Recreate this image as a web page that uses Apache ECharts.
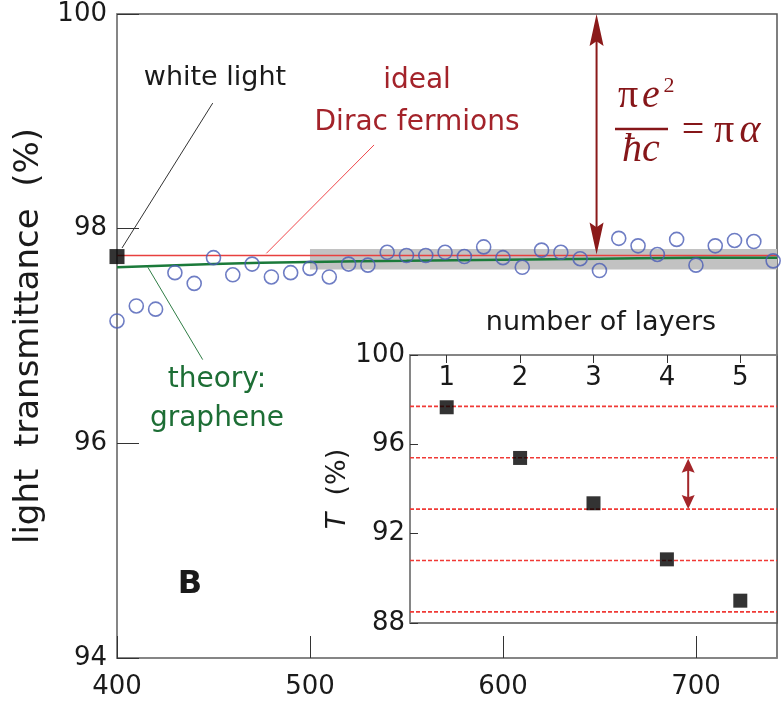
<!DOCTYPE html>
<html>
<head>
<meta charset="utf-8">
<script src="https://cdn.jsdelivr.net/npm/echarts@6/dist/echarts.min.js"></script>
<style>html,body{margin:0;padding:0;background:#fff}#c{width:783px;height:706px}</style>
</head>
<body>
<div id="c"></div>
<script>
// ---- data ----
const wavelengths = [400,410,420,430,440,450,460,470,480,490,500,510,520,530,540,550,560,570,580,590,600,610,620,630,640,650,660,670,680,690,700,710,720,730,740];
const transmittance = [97.14,97.28,97.25,97.59,97.49,97.73,97.57,97.67,97.55,97.59,97.63,97.55,97.67,97.66,97.78,97.75,97.75,97.78,97.74,97.83,97.73,97.64,97.80,97.78,97.72,97.61,97.91,97.84,97.76,97.90,97.66,97.84,97.89,97.88,97.70];
const whiteLight = [400, 97.74];
const idealX = [400, 742];
const idealT = [97.75, 97.75];
const theoryX = [400, 450, 500, 550, 600, 650, 700, 742];
const theoryT = [97.64, 97.67, 97.69, 97.70, 97.71, 97.72, 97.73, 97.73];
const bandX = [500, 742];
const bandT = [97.62, 97.81];
const mainArrow = [648.5, 97.76, 100];
const layers = [1, 2, 3, 4, 5];
const layerT = [97.66, 95.39, 93.36, 90.85, 89.0];
const layerRefLines = [97.7, 95.4, 93.1, 90.8, 88.5];
const layerRefX = [0.5, 5.5];
const insetArrow = [4.29, 93.1, 95.36];
const whiteLeader = [[449.6, 99.17], [402.6, 97.82]];
const idealLeader = [[533.2, 98.78], [477.4, 97.77]];
const theoryLeader = [[444.4, 96.78], [416.0, 97.64]];

const FONT = 'DejaVu Sans';
const chart = echarts.init(document.getElementById('c'), null, {renderer: 'canvas'});

function arrowRenderer(color, headLen, headW, lw) {
  return function (params, api) {
    const x = api.value(0), lo = api.value(1), hi = api.value(2);
    const pLo = api.coord([x, lo]);
    const pHi = api.coord([x, hi]);
    const cx = pLo[0];
    return {
      type: 'group',
      children: [
        {type: 'line', shape: {x1: cx, y1: pHi[1] + headLen * 0.8, x2: cx, y2: pLo[1] - headLen * 0.8},
          style: {stroke: color, lineWidth: lw}},
        {type: 'polygon', shape: {points: [[cx, pHi[1]], [cx - headW / 2, pHi[1] + headLen], [cx, pHi[1] + headLen * 0.85], [cx + headW / 2, pHi[1] + headLen]]},
          style: {fill: color}},
        {type: 'polygon', shape: {points: [[cx, pLo[1]], [cx - headW / 2, pLo[1] - headLen], [cx, pLo[1] - headLen * 0.85], [cx + headW / 2, pLo[1] - headLen]]},
          style: {fill: color}}
      ]
    };
  };
}

const txt = (text, x, y, size, color, extra) => ({
  type: 'text', z: 50,
  style: Object.assign({text: text, x: x, y: y, align: 'center', verticalAlign: 'middle',
    fontSize: size, fontFamily: FONT, fill: color}, extra || {})
});
const FCOL = '#861619';
const SERIF = 'Liberation Serif';
const ftxt = (text, x, y, size, italic) => ({
  type: 'text', z: 50,
  style: {text: text, x: x, y: y, align: 'center', verticalAlign: 'middle', fontSize: size,
    fontFamily: SERIF, fontStyle: italic ? 'italic' : 'normal', fill: FCOL}
});

const refLineSeries = layerRefLines.map((v, k) => ({
  type: 'line', name: 'ref' + k, xAxisIndex: 1, yAxisIndex: 1, z: 3, symbol: 'none', silent: true,
  data: layerRefX.map(x => [x, v]),
  lineStyle: {color: '#f03a36', width: 1.6, type: [4, 2]}
}));

const option = {
  animation: false,
  backgroundColor: '#fff',
  grid: [
    {left: 117, top: 14, right: 6, bottom: 48, show: true, borderColor: '#555', borderWidth: 1.5, backgroundColor: 'transparent'},
    {left: 410, top: 355, right: 6, bottom: 83, show: true, borderColor: '#555', borderWidth: 1.5, backgroundColor: '#fff'}
  ],
  xAxis: [
    {gridIndex: 0, type: 'value', min: 400, max: 742, interval: 100,
      axisLine: {lineStyle: {color: '#888', width: 1.5}},
      axisTick: {inside: true, length: 22, lineStyle: {color: '#333', width: 1}},
      axisLabel: {margin: 16, fontSize: 26, fontFamily: FONT, color: '#1a1a1a', showMaxLabel: false},
      splitLine: {show: false}},
    {gridIndex: 1, type: 'value', min: 0.5, max: 5.5, position: 'top',
      axisLine: {lineStyle: {color: '#888', width: 1.5}},
      axisTick: {inside: true, length: 8, customValues: layers, lineStyle: {color: '#333', width: 1}},
      axisLabel: {inside: true, margin: 10, customValues: layers, fontSize: 26, fontFamily: FONT, color: '#1a1a1a'},
      splitLine: {show: false}}
  ],
  yAxis: [
    {gridIndex: 0, type: 'value', min: 94, max: 100, interval: 2,
      name: 'light  transmittance  (%)', nameLocation: 'middle', nameRotate: 90, nameGap: 54,
      nameTextStyle: {fontSize: 34, fontFamily: FONT, color: '#1a1a1a'},
      axisLine: {lineStyle: {color: '#888', width: 1.5}},
      axisTick: {inside: true, length: 22, lineStyle: {color: '#333', width: 1}},
      axisLabel: {margin: 10, fontSize: 26, fontFamily: FONT, color: '#1a1a1a'},
      splitLine: {show: false}},
    {gridIndex: 1, type: 'value', min: 88, max: 100, interval: 4,
      name: '{i|T}  (%)', nameLocation: 'middle', nameRotate: 90, nameGap: 44,
      nameTextStyle: {fontSize: 27, fontFamily: FONT, color: '#1a1a1a',
        rich: {i: {fontSize: 27, fontFamily: FONT, fontStyle: 'italic', color: '#1a1a1a'}}},
      axisLine: {lineStyle: {color: '#888', width: 1.5}},
      axisTick: {inside: true, length: 8, lineStyle: {color: '#333', width: 1}},
      axisLabel: {margin: 5, fontSize: 26, fontFamily: FONT, color: '#1a1a1a'},
      splitLine: {show: false}}
  ],
  series: [
    {type: 'line', name: 'ideal', xAxisIndex: 0, yAxisIndex: 0, z: 3,
      data: idealX.map((x, i) => [x, idealT[i]]), symbol: 'none',
      lineStyle: {color: '#e8403f', width: 1.5},
      markArea: {silent: true, itemStyle: {color: '#c2c2c2'},
        data: [[{coord: [bandX[0], bandT[0]]}, {coord: [bandX[1], bandT[1]]}]]}},
    {type: 'line', name: 'theory', xAxisIndex: 0, yAxisIndex: 0, z: 4, smooth: true,
      data: theoryX.map((x, i) => [x, theoryT[i]]), symbol: 'none',
      lineStyle: {color: '#1b7a3a', width: 2.5}},
    {type: 'scatter', name: 'measured', xAxisIndex: 0, yAxisIndex: 0, z: 5, clip: true,
      data: wavelengths.map((x, i) => [x, transmittance[i]]),
      symbol: 'circle', symbolSize: 14,
      itemStyle: {color: 'rgba(255,255,255,0)', borderColor: '#4a5cb5', borderWidth: 1.6}},
    {type: 'line', name: 'leaderWhite', xAxisIndex: 0, yAxisIndex: 0, z: 6, data: whiteLeader,
      symbol: 'none', lineStyle: {color: '#333', width: 1}},
    {type: 'line', name: 'leaderIdeal', xAxisIndex: 0, yAxisIndex: 0, z: 6, data: idealLeader,
      symbol: 'none', lineStyle: {color: '#f0484c', width: 1}},
    {type: 'line', name: 'leaderTheory', xAxisIndex: 0, yAxisIndex: 0, z: 6, data: theoryLeader,
      symbol: 'none', lineStyle: {color: '#2f7d45', width: 1}},
    {type: 'scatter', name: 'white light', xAxisIndex: 0, yAxisIndex: 0, z: 7, clip: false,
      data: [whiteLight], symbol: 'rect', symbolSize: 15, itemStyle: {color: '#000'}},
    {type: 'custom', name: 'arrowMain', xAxisIndex: 0, yAxisIndex: 0, z: 8, clip: false,
      data: [mainArrow], encode: {x: 0, y: [1, 2]},
      renderItem: arrowRenderer('#8b1a1a', 32, 14, 2)},
    ...refLineSeries,
    {type: 'scatter', name: 'layers', xAxisIndex: 1, yAxisIndex: 1, z: 5,
      data: layers.map((n, i) => [n, layerT[i]]), symbol: 'rect', symbolSize: 14,
      itemStyle: {color: '#000'}},
    {type: 'custom', name: 'arrowInset', xAxisIndex: 1, yAxisIndex: 1, z: 8, clip: false,
      data: [insetArrow], encode: {x: 0, y: [1, 2]},
      renderItem: arrowRenderer('#a3262a', 14, 13, 2)}
  ],
  graphic: [
    txt('white light', 215, 78, 27, '#1a1a1a'),
    txt('ideal', 417, 81, 28, '#a3232a'),
    txt('Dirac fermions', 417, 123, 28, '#a3232a'),
    txt('theory:', 217, 380, 28, '#1d6e35'),
    txt('graphene', 217, 419, 28, '#1d6e35'),
    txt('B', 190, 585, 32, '#1a1a1a', {fontWeight: 'bold'}),
    txt('number of layers', 601, 323, 27, '#1a1a1a'),
    ftxt('π', 628, 96, 40, false),
    ftxt('e', 651, 96, 40, true),
    ftxt('2', 669, 86, 22, false),
    {type: 'line', z: 50, shape: {x1: 615, y1: 129, x2: 668, y2: 129}, style: {stroke: FCOL, lineWidth: 2.5}},
    ftxt('ħc', 641, 150, 40, true),
    ftxt('=', 693, 131, 40, false),
    ftxt('π', 724, 131, 40, false),
    ftxt('α', 750, 131, 40, true)
  ]
};
chart.setOption(option);
</script>
</body>
</html>
